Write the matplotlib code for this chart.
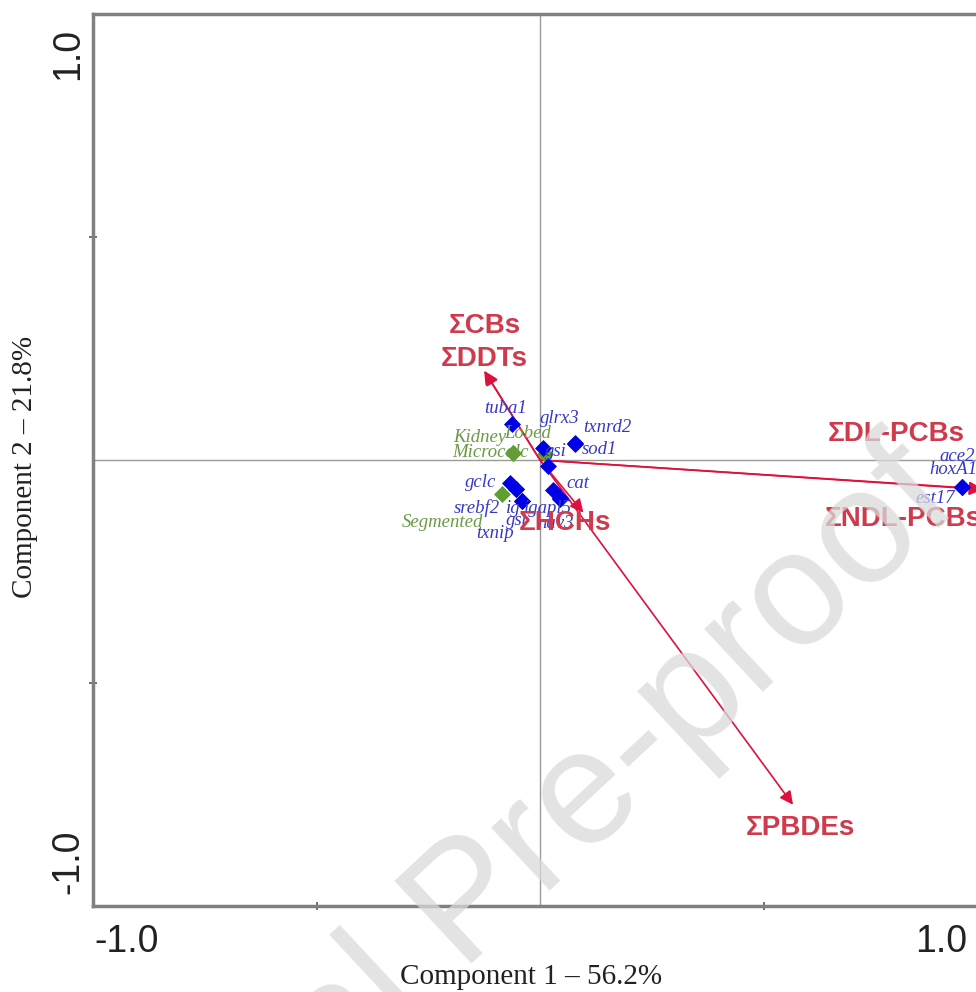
import matplotlib
matplotlib.use("Agg")
import matplotlib.pyplot as plt

# ---------------------------------------------------------------------------
# Loadings / scores
# ---------------------------------------------------------------------------
gene_names = ["tuba1", "glrx3", "gsi", "txnrd2", "sod1", "gclc", "srebf2", "ig",
              "gst", "txnip", "cat", "igapl5", "nav3", "ace2", "hoxA1", "est17"]
gene_x = [-0.063, 0.007, 0.018, 0.078, 0.078, -0.067, -0.054, -0.054,
          -0.040, -0.040, 0.029, 0.045, 0.045, 0.944, 0.944, 0.944]
gene_y = [0.081, 0.027, -0.013, 0.038, 0.036, -0.052, -0.065, -0.066,
          -0.092, -0.093, -0.068, -0.086, -0.088, -0.061, -0.061, -0.061]

trait_names = ["Kidney", "Microcalc", "Lobed", "Segmented"]
trait_x = [-0.060, -0.060, 0.011, -0.085]
trait_y = [0.016, 0.016, 0.013, -0.076]

contam_names = ["ΣCBs", "ΣDDTs", "ΣHCHs", "ΣPBDEs", "ΣDL-PCBs", "ΣNDL-PCBs"]
contam_x = [-0.125, -0.123, 0.097, 0.566, 0.99, 0.99]
contam_y = [0.200, 0.198, -0.118, -0.773, -0.065, -0.066]

pc1_var = 56.2
pc2_var = 21.8

# label offsets in pixels (dx, dy), relative to each mark
gene_offsets = {
    "tuba1": (-6, 15), "glrx3": (17, 29), "gsi": (8, 14), "txnrd2": (32, 16),
    "sod1": (25, -6), "gclc": (-29, 1), "srebf2": (-39, -19), "ig": (-3, -19),
    "gst": (-5, -19), "txnip": (-27, -32), "cat": (25, 7), "igapl5": (-12, -10),
    "nav3": (-5, -24), "ace2": (-5, 31), "hoxA1": (-9, 18), "est17": (-27, -11),
}
trait_offsets = {
    "Kidney": (-33, 15), "Microcalc": (-23, 0), "Lobed": (-17, 21),
    "Segmented": (-60, -29),
}
contam_offsets = {
    "ΣCBs": (1, 45), "ΣDDTs": (-1, 13), "ΣHCHs": (-18, -10), "ΣPBDEs": (7, -23),
    "ΣDL-PCBs": (-155, 55), "ΣNDL-PCBs": (-158, -30),
}
contam_ha = {"ΣDL-PCBs": "left", "ΣNDL-PCBs": "left"}

BLUE = "#0000e6"
BLUE_TXT = "#3838c8"
GREEN = "#5f9f30"
GREEN_TXT = "#6a9a45"
RED_LINE = "#a8203c"
RED_HEAD = "#e0103c"
RED_TXT = "#cf3a4c"
FRAME = "#808080"

fig = plt.figure(figsize=(9.76, 9.92), dpi=100)
W, H = 976, 992
ax = fig.add_axes([93 / W, (H - 906) / H, (987 - 93) / W, (906 - 14) / H])
ax.set_xlim(-1, 1)
ax.set_ylim(-1, 1)

for side in ["left", "bottom", "top"]:
    ax.spines[side].set_color(FRAME)
    ax.spines[side].set_linewidth(2.5)
ax.spines["right"].set_visible(False)

ax.set_xticks([-0.5, 0.5])
ax.set_yticks([-0.5, 0.5])
ax.set_xticklabels([])
ax.set_yticklabels([])
ax.tick_params(direction="inout", length=6, width=1.2, color="#555555")

# tick labels sit inside the ends of each axis
tick_font = dict(family="Liberation Sans", size=27, color="#222222",
                 clip_on=False)
ax.text(-0.924, -1.08, "-1.0", ha="center", va="center", **tick_font)
ax.text(0.897, -1.08, "1.0", ha="center", va="center", **tick_font)
ax.text(-1.056, 0.91, "1.0", ha="center", va="center", rotation=90, **tick_font)
ax.text(-1.056, -0.9, "-1.0", ha="center", va="center", rotation=90,
        **tick_font)

ax.axhline(0, color="#9a9a9a", lw=1.0, zorder=1)
ax.axvline(0, color="#9a9a9a", lw=1.0, zorder=1)

label_font = dict(family="Liberation Serif", size=21, color="#222222")
fig.text(531 / W, 1 - 977 / H, f"Component 1 – {pc1_var}%", ha="center",
         va="center", **label_font)
fig.text(25 / W, 1 - 467 / H, f"Component 2 – {pc2_var}%", ha="center",
         va="center", rotation=90, **label_font)

# contaminant vectors
for name, x, y in zip(contam_names, contam_x, contam_y):
    ax.annotate("", xy=(x, y), xytext=(0, 0),
                arrowprops=dict(arrowstyle="-|>", color=RED_LINE, lw=1.2,
                                mutation_scale=20, fc=RED_HEAD, ec=RED_HEAD,
                                shrinkA=0, shrinkB=0),
                zorder=3, annotation_clip=False)

for name, x, y in zip(contam_names, contam_x, contam_y):
    dx, dy = contam_offsets[name]
    ax.annotate(name, xy=(x, y), xytext=(dx, dy), textcoords="offset pixels",
                ha=contam_ha.get(name, "center"), va="center",
                family="Liberation Sans", weight="bold", size=20,
                color=RED_TXT, zorder=6, annotation_clip=False)

# supplementary traits
ax.scatter(trait_x, trait_y, marker="D", s=75, color=GREEN, zorder=4,
           linewidths=0)
for name, x, y in zip(trait_names, trait_x, trait_y):
    dx, dy = trait_offsets[name]
    ax.annotate(name, xy=(x, y), xytext=(dx, dy), textcoords="offset pixels",
                ha="center", va="center", family="Liberation Serif",
                style="italic", size=13.5, color=GREEN_TXT, zorder=5)

# gene expression
ax.scatter(gene_x, gene_y, marker="D", s=75, color=BLUE, zorder=4,
           linewidths=0, clip_on=False)
for name, x, y in zip(gene_names, gene_x, gene_y):
    dx, dy = gene_offsets[name]
    ax.annotate(name, xy=(x, y), xytext=(dx, dy), textcoords="offset pixels",
                ha="center", va="center", family="Liberation Serif",
                style="italic", size=13.5, color=BLUE_TXT, zorder=5,
                annotation_clip=False)

# watermark
fig.text(962 / W, 1 - 506 / H, "Journal Pre-proof", ha="right", va="baseline",
         rotation=43, rotation_mode="anchor", family="Liberation Sans",
         size=118, color="#dadada", alpha=0.75, zorder=10)

fig.savefig("out.png", dpi=100)
